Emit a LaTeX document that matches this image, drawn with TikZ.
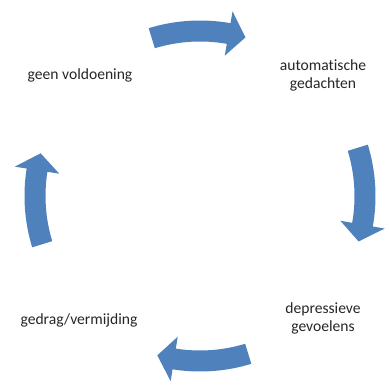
\documentclass[tikz,border=0pt]{standalone}
\usepackage{fontspec}
\setmainfont[Ligatures=NoCommon]{Carlito}
\definecolor{cycleblue}{HTML}{4F81BD}
\newcommand{\rmid}{165}
\newcommand{\rout}{175.5}
\newcommand{\rin}{154.5}
\newcommand{\rhout}{187.5}
\newcommand{\rhin}{142.5}
% curved block arrow, from tail angle #1 clockwise to tip angle #2
\newcommand{\cyclearrow}[2]{%
  \fill[cycleblue] (#1:\rout) arc[start angle=#1, end angle=#2+6, radius=\rout]
    -- (#2+6:\rhout) -- (#2:\rmid) -- (#2+6:\rhin) -- (#2+6:\rin)
    arc[start angle=#2+6, end angle=#1, radius=\rin] -- cycle;}

\begin{document}
\begin{tikzpicture}[x=1pt, y=1pt,
    steptext/.style={align=center, inner sep=0pt, font=\fontsize{15.6}{17.5}\selectfont, text=black!85}]
  \useasboundingbox (0,0) rectangle (389,-385);

  \node[steptext] (gedachten)  at (323,-75.5) {automatische\\gedachten};
  \node[steptext] (gevoelens)  at (323,-318.5) {depressieve\\gevoelens};
  \node[steptext] (gedrag)     at (79,-320) {gedrag/vermijding};
  \node[steptext] (voldoening) at (80,-75) {geen voldoening};

  \begin{scope}[shift={(200,-196)}]
    \cyclearrow{107}{74}
    \cyclearrow{17}{-16}
    \cyclearrow{287}{255}
    \cyclearrow{197}{165}
  \end{scope}
\end{tikzpicture}
\end{document}
